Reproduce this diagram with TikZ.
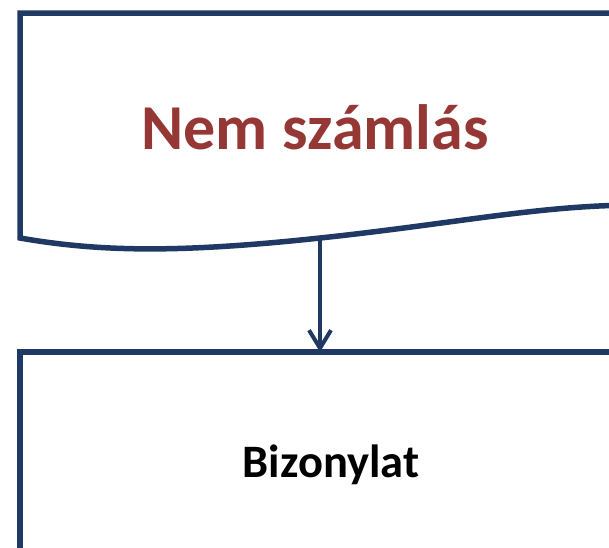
\documentclass[tikz,border=0pt]{standalone}
\usepackage{fontspec}
\setmainfont{Carlito}
\usetikzlibrary{arrows.meta}
\definecolor{navy}{HTML}{1F3864}
\definecolor{darkred}{HTML}{953735}
\tikzset{
  shapeline/.style={draw=navy, line width=5.5pt, line join=miter},
  conn/.style={draw=navy, line width=4pt, -{Straight Barb[length=18pt,width=22pt,line width=4pt]}},
}
\begin{document}
\begin{tikzpicture}[x=1pt,y=-1pt]
\useasboundingbox (0,0) rectangle (609,547);
\clip (0,0) rectangle (609,547);
% document shape
\draw[shapeline] (640,13) -- (20,13) -- (20,238)
  .. controls (100,252) and (180,253) .. (320,238)
  .. controls (460,223) and (540,205) .. (640,205);
\coordinate (docbottom) at (320,238);
\node[anchor=base, font=\bfseries\fontsize{64}{72}\selectfont, text=darkred, inner sep=0pt] (doc) at (315,149) {Nem számlás};
% process box
\draw[shapeline] (20,570) -- (20,352) -- (640,352);
\coordinate (boxtop) at (320,352);
\node[anchor=base, font=\bfseries\fontsize{46.5}{52}\selectfont, inner sep=0pt] (box) at (331,477) {Bizonylat};
% connector
\draw[conn] (docbottom) -- (boxtop);
\end{tikzpicture}
\end{document}
